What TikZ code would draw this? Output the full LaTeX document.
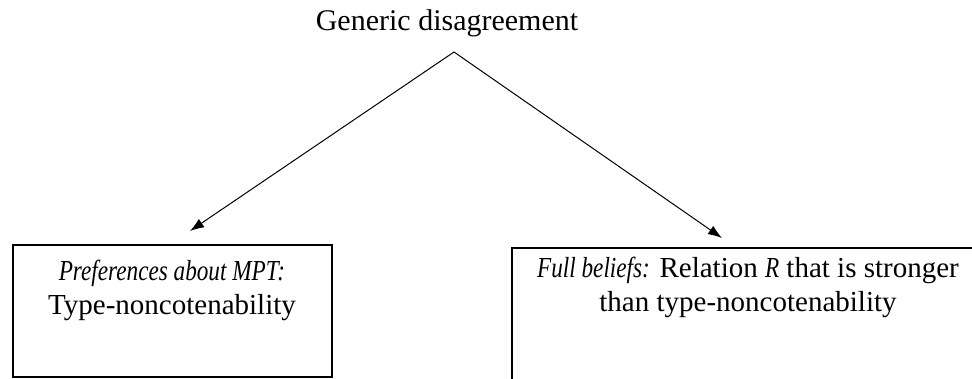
\documentclass[tikz,border=0pt]{standalone}
\usepackage{fontspec}
\setmainfont{Liberation Serif}[ItalicFeatures={FakeStretch=0.8}]
\usetikzlibrary{arrows.meta}
\begin{document}
\begin{tikzpicture}[x=1pt,y=-1pt,
  txt/.style={inner sep=0pt,anchor=base,font=\fontsize{29}{34}\selectfont},
  box/.style={draw,line width=1.3pt},
  arr/.style={line width=1pt,-{Latex[length=14pt,width=10pt]}}]
\useasboundingbox (0,0) rectangle (972,379);
\begin{scope}
\clip (0,0) rectangle (972,379);
\node[txt,font=\fontsize{30}{34}\selectfont] (title) at (447,31) {Generic disagreement};
\coordinate (apex) at (454,52);
\coordinate (lt) at (190,231);
\coordinate (rt) at (722,238);
\draw[arr] (apex) -- (lt);
\draw[arr] (apex) -- (rt);
\draw[box] (13,245) rectangle (332,377);
\node[txt] (l1) at (172,281) {\textit{Preferences about MPT:}};
\node[txt] (l2) at (172,315) {Type-noncotenability};
\draw[box] (512,248) rectangle (990,400);
\node[txt] (r1) at (748,278) {\textit{Full beliefs:} Relation \textit{R} that is stronger};
\node[txt] (r2) at (748,312) {than type-noncotenability};
\end{scope}
\end{tikzpicture}
\end{document}
